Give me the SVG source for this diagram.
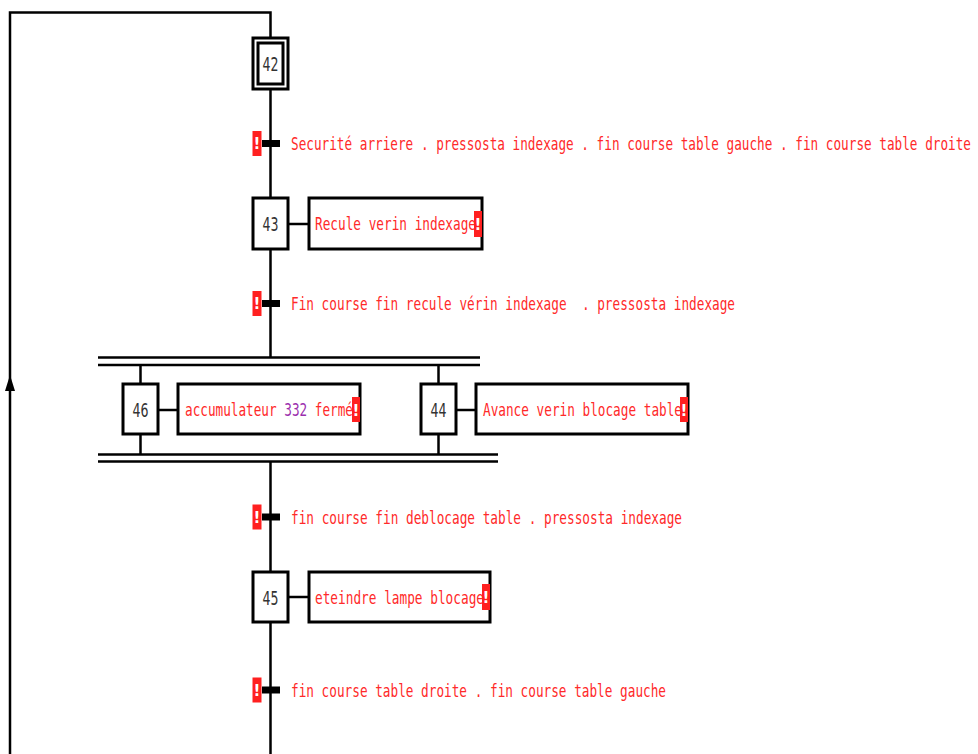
<svg xmlns="http://www.w3.org/2000/svg" width="978" height="754" viewBox="0 0 978 754">
  <defs>
    <style>
      .ln { stroke: #000; stroke-width: 2.5; fill: none; }
      .box { stroke: #000; stroke-width: 3; fill: #fff; }
      .bar { stroke: #000; stroke-width: 7; }
      .warn { fill: #ff2020; }
      .excl { font-family: "DejaVu Sans", sans-serif; font-weight: bold; font-size: 15px; fill: #fff; text-anchor: middle; }
      .num { font-family: "DejaVu Sans", sans-serif; font-size: 19px; fill: #333; text-anchor: middle; }
      .lbl { font-family: "DejaVu Sans Mono", monospace; font-size: 17px; fill: #ff2a2a; }
      .val { fill: #9b2fae; }
    </style>
  </defs>
  <rect width="978" height="754" fill="#fff"/>

  <g id="connectors">
    <!-- return loop to initial step -->
    <polyline class="ln" points="10,754 10,12.5 270.5,12.5 270.5,38"/>
    <path d="M10,391 L15,391 L10,375 L5,391 Z" fill="#000"/>
    <!-- main spine -->
    <line class="ln" x1="270.5" y1="89" x2="270.5" y2="198"/>
    <line class="ln" x1="270.5" y1="249" x2="270.5" y2="357"/>
    <line class="ln" x1="270.5" y1="461" x2="270.5" y2="572"/>
    <line class="ln" x1="270.5" y1="622" x2="270.5" y2="754"/>
    <!-- parallel divergence / convergence -->
    <line class="ln" x1="98" y1="357.5" x2="480" y2="357.5"/>
    <line class="ln" x1="98" y1="365" x2="480" y2="365"/>
    <line class="ln" x1="98" y1="454.5" x2="498" y2="454.5"/>
    <line class="ln" x1="98" y1="461.5" x2="498" y2="461.5"/>
    <line class="ln" x1="140.5" y1="365" x2="140.5" y2="384"/>
    <line class="ln" x1="140.5" y1="434" x2="140.5" y2="454.5"/>
    <line class="ln" x1="438.5" y1="365" x2="438.5" y2="384"/>
    <line class="ln" x1="438.5" y1="434" x2="438.5" y2="454.5"/>
    <!-- step to action links -->
    <line class="ln" x1="288" y1="224" x2="309" y2="224"/>
    <line class="ln" x1="158" y1="410" x2="178" y2="410"/>
    <line class="ln" x1="456" y1="410" x2="476" y2="410"/>
    <line class="ln" x1="288" y1="597" x2="309" y2="597"/>
  </g>

  <g id="step42">
    <rect class="box" x="253" y="38" width="35" height="51"/>
    <rect class="box" x="258" y="43" width="25" height="41"/>
    <text class="num" x="270.5" y="71" textLength="16" lengthAdjust="spacingAndGlyphs">42</text>
  </g>

  <g id="t42-43">
    <line class="bar" x1="262" y1="143.5" x2="280" y2="143.5"/>
    <rect class="warn" x="252.5" y="131" width="9" height="25"/>
    <text class="excl" x="257" y="149">!</text>
    <text class="lbl" x="291" y="150" textLength="680" lengthAdjust="spacingAndGlyphs">Securité arriere . pressosta indexage . fin course table gauche . fin course table droite</text>
  </g>

  <g id="step43">
    <rect class="box" x="253" y="198" width="35" height="51"/>
    <text class="num" x="270.5" y="231" textLength="16" lengthAdjust="spacingAndGlyphs">43</text>
  </g>
  <g id="action43">
    <rect class="box" x="309" y="198" width="173" height="51"/>
    <text class="lbl" x="315" y="230" textLength="161" lengthAdjust="spacingAndGlyphs">Recule verin indexage</text>
    <rect class="warn" x="474" y="211" width="8" height="26"/>
    <text class="excl" x="478" y="230">!</text>
  </g>

  <g id="t43-46-44">
    <line class="bar" x1="262" y1="303.5" x2="280" y2="303.5"/>
    <rect class="warn" x="252.5" y="291" width="9" height="25"/>
    <text class="excl" x="257" y="309">!</text>
    <text class="lbl" x="291" y="310" textLength="444" lengthAdjust="spacingAndGlyphs" xml:space="preserve">Fin course fin recule vérin indexage  . pressosta indexage</text>
  </g>

  <g id="step46">
    <rect class="box" x="123" y="384" width="35" height="50"/>
    <text class="num" x="140.5" y="417" textLength="16" lengthAdjust="spacingAndGlyphs">46</text>
  </g>
  <g id="action46">
    <rect class="box" x="178" y="384" width="182" height="50"/>
    <text class="lbl" x="185" y="416" textLength="168" lengthAdjust="spacingAndGlyphs">accumulateur <tspan class="val">332</tspan> fermé</text>
    <rect class="warn" x="352" y="397" width="8" height="25"/>
    <text class="excl" x="356" y="416">!</text>
  </g>

  <g id="step44">
    <rect class="box" x="421" y="384" width="35" height="50"/>
    <text class="num" x="438.5" y="417" textLength="16" lengthAdjust="spacingAndGlyphs">44</text>
  </g>
  <g id="action44">
    <rect class="box" x="476" y="384" width="212" height="50"/>
    <text class="lbl" x="483" y="416" textLength="199" lengthAdjust="spacingAndGlyphs">Avance verin blocage table</text>
    <rect class="warn" x="680" y="397" width="8" height="25"/>
    <text class="excl" x="684" y="416">!</text>
  </g>

  <g id="t-45">
    <line class="bar" x1="262" y1="517" x2="280" y2="517"/>
    <rect class="warn" x="252.5" y="504.5" width="9" height="25"/>
    <text class="excl" x="257" y="522.5">!</text>
    <text class="lbl" x="291" y="523.5" textLength="391" lengthAdjust="spacingAndGlyphs">fin course fin deblocage table . pressosta indexage</text>
  </g>

  <g id="step45">
    <rect class="box" x="253" y="572" width="35" height="50"/>
    <text class="num" x="270.5" y="605" textLength="16" lengthAdjust="spacingAndGlyphs">45</text>
  </g>
  <g id="action45">
    <rect class="box" x="309" y="572" width="181" height="50"/>
    <text class="lbl" x="315" y="604" textLength="169" lengthAdjust="spacingAndGlyphs">eteindre lampe blocage</text>
    <rect class="warn" x="482" y="584" width="8" height="26"/>
    <text class="excl" x="486" y="603">!</text>
  </g>

  <g id="t45-42">
    <line class="bar" x1="262" y1="690" x2="280" y2="690"/>
    <rect class="warn" x="252.5" y="677.5" width="9" height="25"/>
    <text class="excl" x="257" y="695.5">!</text>
    <text class="lbl" x="291" y="696.5" textLength="375" lengthAdjust="spacingAndGlyphs">fin course table droite . fin course table gauche</text>
  </g>
</svg>
